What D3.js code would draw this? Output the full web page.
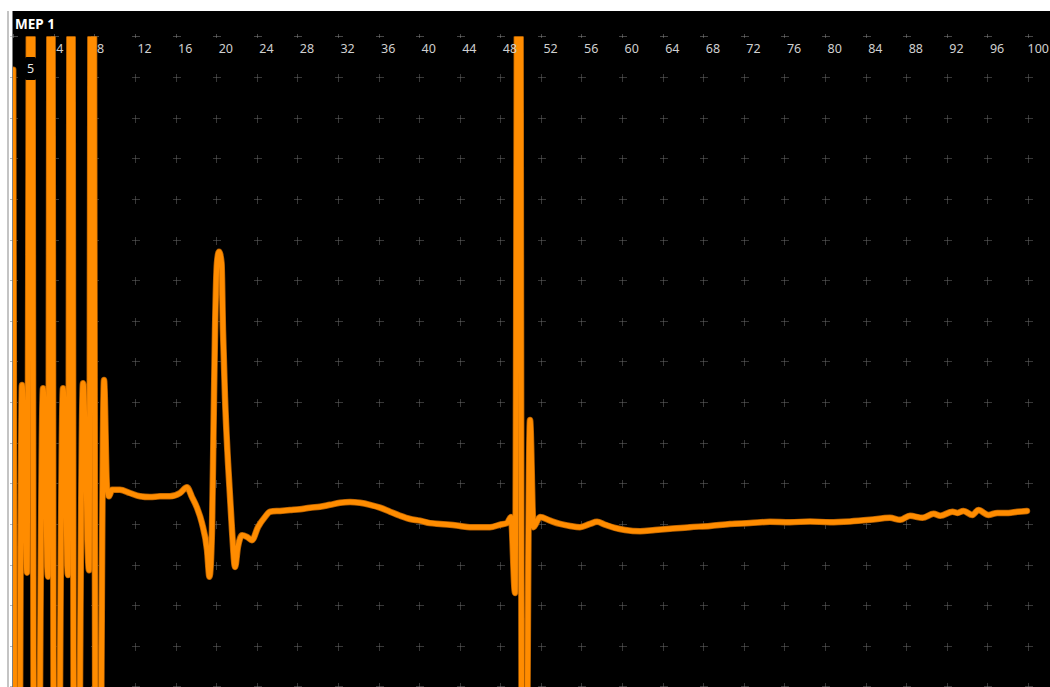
<!DOCTYPE html>
<html>
<head>
<meta charset="utf-8">
<script src="https://cdn.jsdelivr.net/npm/d3@7"></script>
<style>
  html, body { margin: 0; padding: 0; background: #fff; }
  svg { display: block; }
</style>
</head>
<body>
<div id="mep-chart"></div>
<script>
const WIDTH = 1050;
const HEIGHT = 687;

const TITLE = "MEP 1";
const SCALE_LABEL = "5";

// grid / tick values (ms on x, µV on y)
const xTicks = [0, 4, 8, 12, 16, 20, 24, 28, 32, 36, 40, 44, 48, 52, 56, 60, 64, 68, 72, 76, 80, 84, 88, 92, 96, 100];
const xLabels = [4, 8, 12, 16, 20, 24, 28, 32, 36, 40, 44, 48, 52, 56, 60, 64, 68, 72, 76, 80, 84, 88, 92, 96, 100];
const yRows = [55, 50, 45, 40, 35, 30, 25, 20, 15, 10, 5, 0, -5, -10, -15, -20];

// trace (time in ms, amplitude in µV)
const times = [
  0, 0.37, 0.87, 1.36, 1.75, 2.15, 2.94, 3.43, 3.72, 4.12,
  4.91, 5.40, 5.70, 6.09, 6.88, 7.47, 7.77, 8.26, 8.95, 9.24,
  9.44, 9.74, 10.52, 11.50, 12.49, 13.48, 14.47, 15.45, 16.44, 17.13,
  17.62, 18.11, 18.60, 19.10, 19.34, 19.59, 19.74, 19.89, 20.08, 20.28,
  20.53, 20.67, 20.87, 21.17, 21.56, 21.86, 22.15, 22.55, 23.04, 23.53,
  24.12, 24.81, 25.31, 26.29, 27.28, 28.26, 29.25, 30.23, 31.22, 32.20,
  33.19, 34.17, 35.16, 36.14, 37.13, 38.12, 39.10, 40.09, 41.07, 42.06,
  43.04, 44.03, 45.01, 46.00, 46.98, 47.97, 48.66, 49.05, 49.45, 49.84,
  50.24, 50.93, 51.27, 51.91, 52.90, 53.88, 54.87, 55.85, 56.84, 57.53,
  58.32, 59.30, 60.29, 61.77, 63.24, 64.72, 66.69, 68.66, 70.63, 72.60,
  74.57, 76.55, 78.52, 80.49, 82.46, 84.43, 86.40, 87.40, 88.37, 89.60,
  90.70, 91.36, 92.55, 93.04, 93.63, 94.52, 95.11, 96.10, 96.98, 98.07,
  98.96, 99.90
];
const amplitudes = [
  55.9, -100, 17.1, -6.0, 150, -100, 16.7, -6.5, 150, -100,
  16.7, -6.3, 150, -100, 17.3, -5.7, 150, -100, 17.7, 4.5,
  3.4, 4.2, 4.2, 3.8, 3.4, 3.3, 3.4, 3.4, 3.8, 4.5,
  3.3, 2.0, 0.1, -3.2, -6.5, -0.75, 11.6, 23.9, 32.1, 33.5,
  32.1, 23.9, 15.6, 7.5, -0.75, -5.3, -2.8, -1.4, -1.6, -2.0,
  -0.4, 0.85, 1.5, 1.6, 1.7, 1.8, 2.0, 2.1, 2.35, 2.6,
  2.7, 2.6, 2.35, 2.0, 1.5, 1.0, 0.6, 0.4, 0.1, 0.0,
  -0.1, -0.25, -0.4, -0.4, -0.4, -0.1, 0.1, 0.85, -8.5, 150,
  -100, 12.8, -0.4, 0.85, 0.4, 0.0, -0.25, -0.4, 0.0, 0.25,
  -0.1, -0.5, -0.75, -0.9, -0.75, -0.6, -0.4, -0.25, 0.0, 0.1,
  0.25, 0.2, 0.3, 0.2, 0.3, 0.5, 0.75, 0.5, 1.0, 0.75,
  1.25, 1.0, 1.5, 1.35, 1.6, 1.1, 1.7, 1.1, 1.35, 1.35,
  1.5, 1.6
];

const data = times.map((t, i) => ({ t: t, v: amplitudes[i] }));

const PLOT = { LEFT: 13, TOP: 11, RIGHT: WIDTH, BOTTOM: HEIGHT };

const x = d3.scaleLinear().domain([0, 100]).range([13.2, 1028]);
const y = d3.scaleLinear().domain([-20, 60]).range([686.4, 36.4]);

const svg = d3
  .select("#mep-chart")
  .append("svg")
  .attr("width", WIDTH)
  .attr("height", HEIGHT);

svg.append("rect")
  .attr("width", WIDTH)
  .attr("height", HEIGHT)
  .style("fill", "#ffffff");

// left window border
svg.append("line")
  .attr("x1", 8).attr("x2", 8)
  .attr("y1", PLOT.TOP).attr("y2", HEIGHT)
  .style("stroke", "#c4c4c4")
  .style("stroke-width", "2px");

svg.append("rect")
  .attr("x", PLOT.LEFT - 0.5)
  .attr("y", PLOT.TOP)
  .attr("width", PLOT.RIGHT - PLOT.LEFT + 0.5)
  .attr("height", PLOT.BOTTOM - PLOT.TOP)
  .style("fill", "#000000");

svg.append("clipPath")
  .attr("id", "plot-clip")
  .append("rect")
  .attr("x", PLOT.LEFT)
  .attr("y", y(60))
  .attr("width", PLOT.RIGHT - PLOT.LEFT)
  .attr("height", PLOT.BOTTOM - y(60));

// GRID CROSSES
const grid = svg.append("g").attr("class", "grid");
const cells = [];
xTicks.forEach((t) => yRows.forEach((v) => cells.push({ t: t, v: v })));

const crosses = grid.selectAll("g")
  .data(cells)
  .enter()
  .append("g")
  .attr("transform", (d) => `translate(${Math.round(x(d.t)) + 0.5}, ${Math.round(y(d.v)) + 0.5})`);

crosses.append("line")
  .attr("x1", -3).attr("x2", 4)
  .style("stroke", "#6e6e6e")
  .style("stroke-width", "1px")
  .style("stroke-dasharray", "1,1");
crosses.append("line")
  .attr("y1", -3).attr("y2", 4)
  .style("stroke", "#6e6e6e")
  .style("stroke-width", "1px")
  .style("stroke-dasharray", "1,1");

// top tick marks (half crosses)
const topMarks = grid.selectAll(".top-mark")
  .data(xTicks)
  .enter()
  .append("g")
  .attr("class", "top-mark")
  .attr("transform", (d) => `translate(${Math.round(x(d)) + 0.5}, ${Math.round(y(60)) + 0.5})`);
topMarks.append("line")
  .attr("x1", -3).attr("x2", 4)
  .style("stroke", "#8c8c8c")
  .style("stroke-dasharray", "1,1");
topMarks.append("line")
  .attr("y1", -2).attr("y2", 1)
  .style("stroke", "#8c8c8c")
  .style("stroke-dasharray", "1,1");

// TRACE
const line = d3.line()
  .x((d) => x(d.t))
  .y((d) => y(d.v))
  .curve(d3.curveMonotoneX);

svg.append("path")
  .datum(data)
  .attr("clip-path", "url(#plot-clip)")
  .attr("d", line)
  .style("fill", "none")
  .style("stroke", "#b35f00")
  .style("stroke-width", "6.5px")
  .style("stroke-linejoin", "round")
  .style("stroke-linecap", "round");

svg.append("path")
  .datum(data)
  .attr("clip-path", "url(#plot-clip)")
  .attr("d", line)
  .style("fill", "none")
  .style("stroke", "#ff8c00")
  .style("stroke-width", "5px")
  .style("stroke-linejoin", "round")
  .style("stroke-linecap", "round");

// TICK LABELS (the last one is pulled in so it stays inside the window)
const lastLabel = xLabels[xLabels.length - 1];
svg.append("g")
  .selectAll("text")
  .data(xLabels)
  .enter()
  .append("text")
  .attr("x", (d) => (d === lastLabel ? WIDTH - 1 : x(d) + 2.5))
  .attr("y", 52.5)
  .style("text-anchor", (d) => (d === lastLabel ? "end" : "start"))
  .style("font-family", "'Noto Sans', 'Open Sans', sans-serif")
  .style("font-size", "12.5px")
  .style("fill", "#d0d0d0")
  .text((d) => d);

// TITLE
svg.append("text")
  .attr("x", 15)
  .attr("y", 28.5)
  .style("font-family", "'Noto Sans', 'Open Sans', sans-serif")
  .style("font-size", "13.5px")
  .style("font-weight", "700")
  .style("fill", "#ffffff")
  .text(TITLE);

// scale box
svg.append("rect")
  .attr("x", 25)
  .attr("y", 57)
  .attr("width", 11)
  .attr("height", 23)
  .attr("rx", 1.5)
  .style("fill", "#000000");

svg.append("text")
  .attr("x", 30.5)
  .attr("y", 73)
  .style("text-anchor", "middle")
  .style("font-family", "'Noto Sans', 'Open Sans', sans-serif")
  .style("font-size", "12.5px")
  .style("fill", "#e8e8e8")
  .text(SCALE_LABEL);
</script>
</body>
</html>
